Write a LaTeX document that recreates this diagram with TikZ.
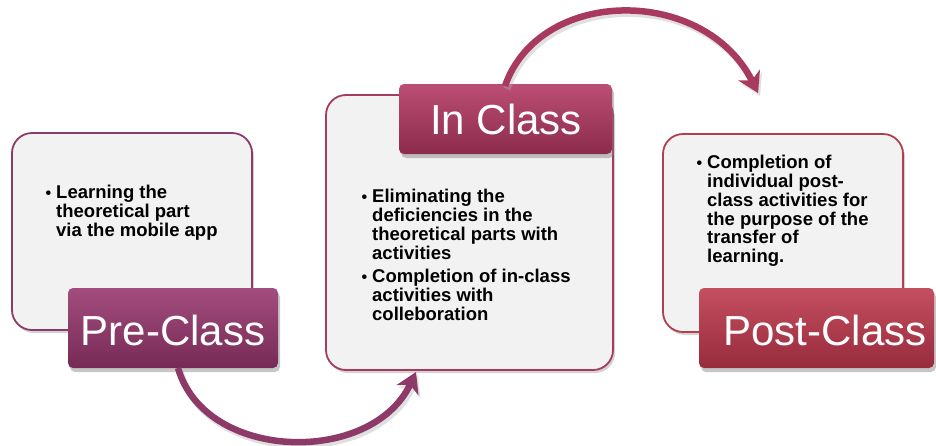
\documentclass[tikz,border=0pt]{standalone}
\usepackage{fontspec}
\setmainfont{Liberation Sans}
\usetikzlibrary{shadows,arrows.meta}
\definecolor{preC}{HTML}{8E3A68}
\definecolor{preT}{HTML}{A24D7E}
\definecolor{preB}{HTML}{772A55}
\definecolor{inC}{HTML}{A83A60}
\definecolor{inT}{HTML}{BB4E74}
\definecolor{inB}{HTML}{8C2B4C}
\definecolor{postC}{HTML}{B23E50}
\definecolor{postT}{HTML}{C44F60}
\definecolor{postB}{HTML}{982B3C}
\definecolor{boxfill}{HTML}{F2F2F2}
\tikzset{
  bigbox/.style={draw=#1, line width=1.8pt, fill=boxfill, rounded corners=20pt,
    drop shadow={shadow xshift=2pt, shadow yshift=-3pt, opacity=0.35}},
  labelbox/.style n args={2}{rounded corners=5pt, top color=#1, bottom color=#2,
    drop shadow={shadow xshift=2pt, shadow yshift=-4pt, opacity=0.45}},
  labeltext/.style={text=white, font=\fontsize{42}{46}\selectfont},
  bodytext/.style={anchor=north west, align=left, inner sep=0pt,
    font=\bfseries\fontsize{18.5}{18.8}\selectfont},
  flowarrow/.style={line width=6.5pt, draw=#1, -{Stealth[length=20pt,width=24pt,inset=6pt]},
    preaction={draw=black!30, line width=7pt, opacity=0.4, transform canvas={xshift=2pt,yshift=-3pt}}},
}
\newcommand{\bul}{\llap{\fontsize{16}{16}\selectfont\textbullet\hspace{5pt}}}
\begin{document}
\begin{tikzpicture}[x=1pt,y=-1pt]
\useasboundingbox (0,0) rectangle (936,445);
% big boxes
\path[bigbox=preC] (12,133) rectangle (252,330);
\path[bigbox=inC] (326,95) rectangle (613,370);
\path[bigbox=postC] (663,134) rectangle (903,332);
% body texts
\node[bodytext] (pretext) at (56,185) {\bul Learning the\\theoretical part\\via the mobile app};
\node[bodytext] (intext) at (372,189) {\bul Eliminating the\\deficiencies in the\\theoretical parts with\\activities\\[5pt]\bul Completion of in-class\\activities with\\colleboration};
\node[bodytext] (posttext) at (707,155) {\bul Completion of\\individual post-\\class activities for\\the purpose of the\\transfer of\\learning.};
% label boxes
\path[labelbox={preT}{preB}] (68,288) rectangle (278,368);
\path[labelbox={inT}{inB}] (399,84) rectangle (612,154);
\path[labelbox={postT}{postB}] (699,288) rectangle (934,368);
\node[labeltext] (prelabel) at (173,330) {Pre-Class};
\node[labeltext] (inlabel) at (506,119) {In Class};
\node[labeltext] (postlabel) at (825,330) {Post-Class};
% arrow coordinates
\coordinate (a1s) at (178,368);
\coordinate (a1e) at (416,372);
\coordinate (a2s) at (505,86);
\coordinate (a2e) at (758,93);
\draw[flowarrow=preC] (a1s) .. controls (205,462) and (372,466) .. (a1e);
\draw[flowarrow=inC] (a2s) .. controls (540,-14) and (705,-14) .. (a2e);
\end{tikzpicture}
\end{document}
